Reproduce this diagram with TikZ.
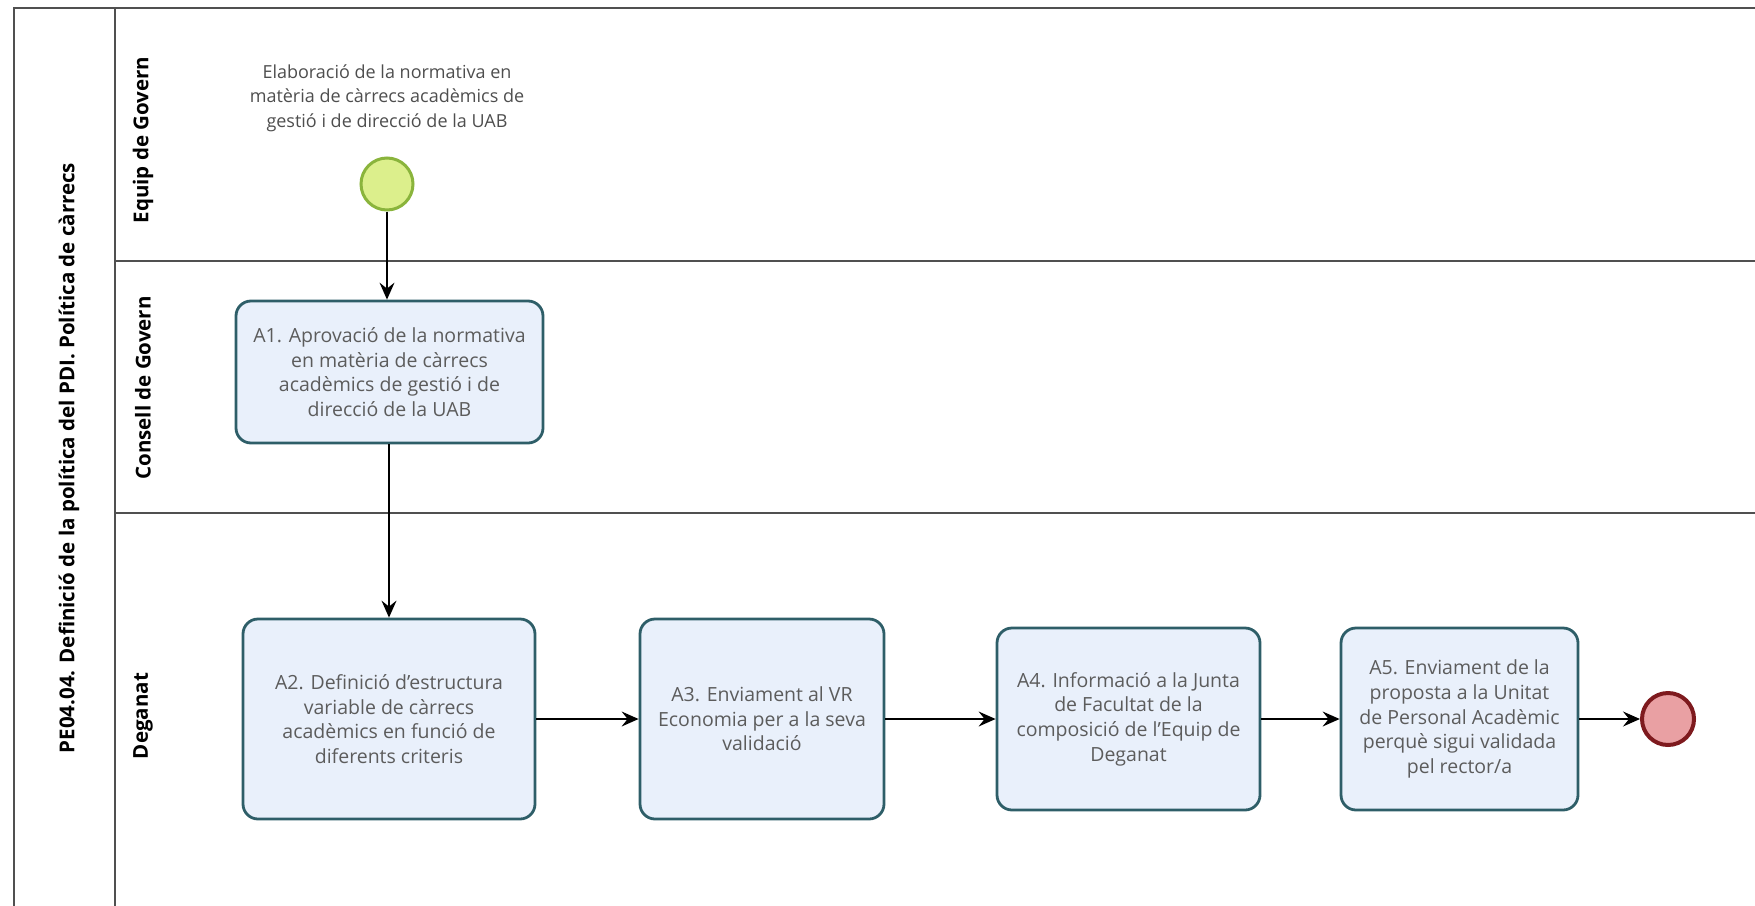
\documentclass[tikz,border=0pt]{standalone}
\usepackage{fontspec}
\setmainfont{Open Sans}
\usetikzlibrary{arrows.meta}
\definecolor{boxfill}{HTML}{E9F0FB}
\definecolor{boxdraw}{HTML}{2E5E68}
\definecolor{txtgray}{HTML}{5C5C5C}
\definecolor{startfill}{HTML}{DCEF8C}
\definecolor{startdraw}{HTML}{8AB43C}
\definecolor{endfill}{HTML}{E9A0A3}
\definecolor{enddraw}{HTML}{7E1A1E}
\definecolor{frame}{HTML}{505050}
\tikzset{
  task/.style={draw=boxdraw, line width=2.8pt, fill=boxfill, rounded corners=15pt,
    align=center, text=txtgray, font=\fontsize{19.5}{24.6}\selectfont, inner sep=0pt},
  startev/.style={circle, draw=startdraw, line width=3pt, fill=startfill, minimum size=52pt, inner sep=0pt},
  endev/.style={circle, draw=enddraw, line width=4pt, fill=endfill, minimum size=52pt, inner sep=0pt},
  flow/.style={draw=black, line width=1.5pt, -{Stealth[length=17pt,width=15pt,inset=6pt]}},
  lanelabel/.style={rotate=90, font=\bfseries\fontsize{20.5}{23}\selectfont, text=black},
  frameline/.style={draw=frame, line width=1.8pt}
}
\begin{document}
\begin{tikzpicture}[x=1pt,y=-1pt]
\useasboundingbox (0,0) rectangle (1755,905);
% pool frame
\draw[frameline, line width=2.6pt] (14,906) -- (14,8) -- (1756,8);
\draw[frameline] (115,8) -- (115,906);
\draw[frameline] (115,261) -- (1756,261);
\draw[frameline] (115,513) -- (1756,513);
% titles
\node[lanelabel] (pool) at (69,458) {PE04.04. Definició de la política del PDI. Política de càrrecs};
\node[lanelabel] (l1) at (143,140) {Equip de Govern};
\node[lanelabel] (l2) at (143,388) {Consell de Govern};
\node[lanelabel] (l3) at (143,716) {Deganat};
% start label
\node[align=center, text=txtgray!85!black, font=\fontsize{18}{24.6}\selectfont] (slabel) at (387,98)
  {Elaboració de la normativa en\\matèria de càrrecs acadèmics de\\gestió i de direcció de la UAB};
% events and tasks
\node[startev] (start) at (387,184) {};
\node[task, minimum width=307pt, minimum height=142pt] (a1) at (389.5,372)
  {A1. Aprovació de la normativa\\en matèria de càrrecs\\acadèmics de gestió i de\\direcció de la UAB};
\node[task, minimum width=292pt, minimum height=200pt] (a2) at (389,719)
  {A2. Definició d'estructura\\variable de càrrecs\\acadèmics en funció de\\diferents criteris};
\node[task, minimum width=244pt, minimum height=200pt] (a3) at (762,719)
  {A3. Enviament al VR\\Economia per a la seva\\validació};
\node[task, minimum width=263pt, minimum height=182pt] (a4) at (1128.5,719)
  {A4. Informació a la Junta\\de Facultat de la\\composició de l'Equip de\\Deganat};
\node[task, minimum width=237pt, minimum height=182pt] (a5) at (1459.5,719)
  {A5. Enviament de la\\proposta a la Unitat\\de Personal Acadèmic\\perquè sigui validada\\pel rector/a};
\node[endev] (end) at (1668,719) {};
% flows
\draw[flow] (start) -- (start |- a1.north);
\draw[flow] (a1.south -| a2.north) -- (a2.north);
\draw[flow] (a2.east) -- (a3.west);
\draw[flow] (a3.east) -- (a4.west);
\draw[flow] (a4.east) -- (a5.west);
\draw[flow] (a5.east) -- (end.west);
\end{tikzpicture}
\end{document}
